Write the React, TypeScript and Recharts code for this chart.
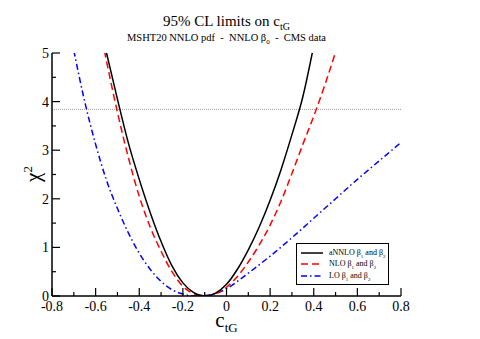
import React from "react";
import {
  LineChart,
  Line,
  XAxis,
  YAxis,
  ReferenceLine,
} from "recharts";

// chi^2 scans vs c_tG
const annloX = [-0.55, -0.5, -0.45, -0.4, -0.35, -0.3, -0.25, -0.2, -0.15, -0.1, -0.05, 0, 0.05, 0.1, 0.15, 0.2, 0.25, 0.3, 0.35, 0.4];
const annloY = [5.0, 4.05, 3.15, 2.4, 1.72, 1.12, 0.62, 0.27, 0.07, 0.0, 0.06, 0.24, 0.55, 0.95, 1.42, 1.97, 2.6, 3.32, 4.1, 5.15];

const nloX = [-0.56, -0.5, -0.45, -0.4, -0.35, -0.3, -0.25, -0.2, -0.15, -0.1, -0.05, 0, 0.05, 0.1, 0.15, 0.2, 0.25, 0.3, 0.35, 0.4, 0.45, 0.5];
const nloY = [5.05, 3.78, 2.85, 2.05, 1.42, 0.92, 0.5, 0.2, 0.05, 0.0, 0.05, 0.18, 0.4, 0.7, 1.05, 1.46, 1.95, 2.52, 3.12, 3.7, 4.33, 5.02];

const loX = [-0.7, -0.65, -0.6, -0.55, -0.5, -0.45, -0.4, -0.35, -0.3, -0.25, -0.2, -0.15, -0.1, -0.05, 0, 0.05, 0.1, 0.2, 0.3, 0.4, 0.5, 0.6, 0.7, 0.8];
const loY = [5.05, 4.0, 3.12, 2.38, 1.8, 1.3, 0.88, 0.55, 0.3, 0.13, 0.04, 0.0, 0.01, 0.05, 0.15, 0.3, 0.47, 0.82, 1.2, 1.6, 2.0, 2.4, 2.78, 3.16];

const xTicks = [-0.8, -0.7, -0.6, -0.5, -0.4, -0.3, -0.2, -0.1, 0, 0.1, 0.2, 0.3, 0.4, 0.5, 0.6, 0.7, 0.8];
const yTicks = [0, 0.5, 1, 1.5, 2, 2.5, 3, 3.5, 4, 4.5, 5];

const limit95 = 3.84;

const toPts = (xs: number[], ys: number[]) => xs.map((x, i) => ({ x, y: ys[i] }));

const annlo = toPts(annloX, annloY);
const nlo = toPts(nloX, nloY);
const lo = toPts(loX, loY);

const serif = "'Liberation Serif', 'DejaVu Serif', serif";

const isMajorX = (v: number) => Math.round(v * 10) % 2 === 0;
const isMajorY = (v: number) => Number.isInteger(v);

const XTickBottom = (props: any) => {
  const { x, y, payload } = props;
  const v = payload.value;
  const major = isMajorX(v);
  return (
    <g>
      <line x1={x} x2={x} y1={y} y2={y - (major ? 8 : 4)} stroke="#000" strokeWidth={1.2} />
      {major && (
        <text x={x} y={y + 15} textAnchor="middle" fontFamily={serif} fontSize={14} fill="#000">
          {v === 0 ? "0" : v.toFixed(1)}
        </text>
      )}
    </g>
  );
};

const XTickTop = (props: any) => {
  const { x, y, payload } = props;
  const major = isMajorX(payload.value);
  return <line x1={x} x2={x} y1={y} y2={y + (major ? 8 : 4)} stroke="#000" strokeWidth={1.2} />;
};

const YTickLeft = (props: any) => {
  const { x, y, payload } = props;
  const v = payload.value;
  const major = isMajorY(v);
  return (
    <g>
      <line x1={x} x2={x + (major ? 8 : 4)} y1={y} y2={y} stroke="#000" strokeWidth={1.2} />
      {major && (
        <text x={x - 3} y={y + 5} textAnchor="end" fontFamily={serif} fontSize={14} fill="#000">
          {v}
        </text>
      )}
    </g>
  );
};

const YTickRight = (props: any) => {
  const { x, y, payload } = props;
  const major = isMajorY(payload.value);
  return <line x1={x} x2={x - (major ? 8 : 4)} y1={y} y2={y} stroke="#000" strokeWidth={1.2} />;
};

const legendItems = [
  { name: "aNNLO", color: "#000", dash: undefined },
  { name: "NLO", color: "#ff0000", dash: "7 4" },
  { name: "LO", color: "#0000ff", dash: "6 3 1.5 3" },
];

const LegendBox = () => (
  <div
    style={{
      position: "absolute",
      left: 296,
      top: 243,
      border: "1px solid #000",
      background: "#fff",
      width: 93,
      height: 42,
      boxSizing: "border-box",
      padding: "3px 0 0 3px",
      fontFamily: serif,
      fontSize: 8,
      color: "#000",
    }}
  >
    {legendItems.map((it) => (
      <div key={it.name} style={{ display: "flex", alignItems: "center", height: 11.5, lineHeight: "10px", whiteSpace: "nowrap" }}>
        <svg width={24} height={6}>
          <line x1={1} x2={23} y1={3} y2={3} stroke={it.color} strokeWidth={1.5} strokeDasharray={it.dash} />
        </svg>
        <span style={{ marginLeft: 5 }}>
          {it.name} β<sub style={{ fontSize: 5, lineHeight: 0 }}>1</sub> and β<sub style={{ fontSize: 5, lineHeight: 0 }}>2</sub>
        </span>
      </div>
    ))}
  </div>
);

export default function App() {
  return (
    <div style={{ position: "absolute", left: 0, top: 0, width: 480, height: 339, background: "#fff" }}>
      <LineChart width={480} height={339} margin={{ top: 53, right: 79, left: 22, bottom: 13 }}>
        <XAxis
          dataKey="x"
          type="number"
          domain={[-0.8, 0.8]}
          ticks={xTicks}
          allowDataOverflow
          tickSize={0}
          tickMargin={0}
          tickLine={false}
          tick={<XTickBottom />}
          interval={0}
          height={30}
          axisLine={{ stroke: "#000", strokeWidth: 1.5 }}
        />
        <XAxis
          xAxisId="top"
          orientation="top"
          dataKey="x"
          type="number"
          domain={[-0.8, 0.8]}
          ticks={xTicks}
          tickSize={0}
          tickMargin={0}
          tickLine={false}
          tick={<XTickTop />}
          interval={0}
          height={0}
          axisLine={{ stroke: "#000", strokeWidth: 1.5 }}
        />
        <YAxis
          type="number"
          domain={[0, 5]}
          ticks={yTicks}
          allowDataOverflow
          tickSize={0}
          tickMargin={0}
          tickLine={false}
          tick={<YTickLeft />}
          interval={0}
          width={30}
          axisLine={{ stroke: "#000", strokeWidth: 1.5 }}
        />
        <YAxis
          yAxisId="right"
          orientation="right"
          type="number"
          domain={[0, 5]}
          ticks={yTicks}
          tickSize={0}
          tickMargin={0}
          tickLine={false}
          tick={<YTickRight />}
          interval={0}
          width={0}
          axisLine={{ stroke: "#000", strokeWidth: 1.5 }}
        />
        <ReferenceLine y={limit95} stroke="#999" strokeDasharray="1 1" strokeWidth={1} />
        <Line data={lo} dataKey="y" type="monotone" stroke="#0000ff" strokeWidth={1.5} strokeDasharray="6 3 1.5 3" dot={false} isAnimationActive={false} />
        <Line data={nlo} dataKey="y" type="monotone" stroke="#ff0000" strokeWidth={1.5} strokeDasharray="7 4" dot={false} isAnimationActive={false} />
        <Line data={annlo} dataKey="y" type="monotone" stroke="#000" strokeWidth={1.5} dot={false} isAnimationActive={false} />
      </LineChart>
      <LegendBox />
      <div style={{ position: "absolute", left: 52, width: 349, top: 13, textAlign: "center", fontFamily: serif, fontSize: 15, lineHeight: "16px" }}>
        95% CL limits on c<sub style={{ fontSize: 10 }}>tG</sub>
      </div>
      <div style={{ position: "absolute", left: 52, width: 349, top: 32, textAlign: "center", fontFamily: serif, fontSize: 10.5, lineHeight: "12px" }}>
        MSHT20 NNLO pdf&nbsp; - &nbsp;NNLO β<sub style={{ fontSize: 7 }}>0</sub>&nbsp; - &nbsp;CMS data
      </div>
      <div style={{ position: "absolute", left: 52, width: 349, top: 309, textAlign: "center", fontFamily: serif, fontSize: 21, lineHeight: "22px" }}>
        c<sub style={{ fontSize: 13 }}>tG</sub>
      </div>
      <div
        style={{
          position: "absolute",
          left: 8,
          top: 162,
          width: 40,
          height: 24,
          transform: "rotate(-90deg)",
          textAlign: "center",
          fontFamily: serif,
          fontSize: 21,
          lineHeight: "24px",
        }}
      >
        χ<sup style={{ fontSize: 13 }}>2</sup>
      </div>
    </div>
  );
}
